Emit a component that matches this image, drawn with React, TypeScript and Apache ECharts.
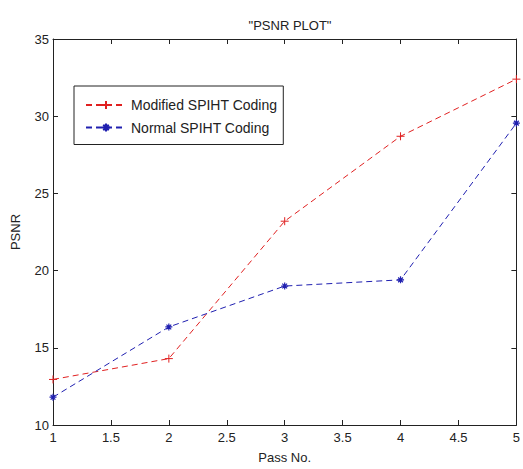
import React, { useEffect, useRef } from "react";
import * as echarts from "echarts";

const passNo = [1, 2, 3, 4, 5];
const modifiedSPIHT = [12.95, 14.3, 23.2, 28.7, 32.4];
const normalSPIHT = [11.8, 16.35, 19.0, 19.4, 29.55];
const xTicks = { min: 1, max: 5, interval: 0.5 };
const yTicks = { min: 10, max: 35, interval: 5 };

const RED = "#e02020";
const BLUE = "#2020b0";
const FONT = "Liberation Sans, Arial, sans-serif";

const plusSymbol = "path://M5,0L5,10M0,5L10,5";
const starSymbol = "path://M5,0L5,10M0,5L10,5M1.6,1.6L8.4,8.4M8.4,1.6L1.6,8.4";

export default function App() {
  const ref = useRef<HTMLDivElement>(null);
  useEffect(() => {
    if (!ref.current) return;
    const chart = echarts.init(ref.current, undefined, { renderer: "svg" });
    const axisLine = { show: true, lineStyle: { color: "#222", width: 1 } };
    const tick = { show: true, inside: true, length: 5, lineStyle: { color: "#222" } };
    const label = { color: "#222", fontSize: 13, fontFamily: FONT };
    chart.setOption({
      animation: false,
      backgroundColor: "#fff",
      title: {
        text: '"PSNR PLOT"',
        left: 285,
        top: 14,
        textAlign: "center",
        textStyle: { fontSize: 13, fontWeight: "normal", color: "#222", fontFamily: FONT },
      },
      grid: { left: 53, right: 3, top: 39, bottom: 39, containLabel: false },
      legend: {
        orient: "vertical",
        left: 74,
        top: 86,
        itemWidth: 40,
        itemHeight: 10,
        itemGap: 8.5,
        padding: [12, 6, 10, 11],
        borderColor: "#222",
        borderWidth: 1,
        backgroundColor: "#fff",
        textStyle: { fontSize: 14, color: "#222", fontFamily: FONT },
        data: ["Modified SPIHT Coding", "Normal SPIHT Coding"],
      },
      xAxis: [
        {
          type: "value",
          ...xTicks,
          name: "Pass No.",
          nameLocation: "middle",
          nameGap: 26,
          nameTextStyle: { fontSize: 13, color: "#222", fontFamily: FONT },
          axisLine,
          axisTick: tick,
          axisLabel: { ...label, margin: 6, formatter: (v: number) => String(v) },
          splitLine: { show: false },
        },
        {
          type: "value",
          position: "top",
          ...xTicks,
          axisLine,
          axisTick: tick,
          axisLabel: { show: false },
          splitLine: { show: false },
        },
      ],
      yAxis: [
        {
          type: "value",
          ...yTicks,
          name: "PSNR",
          nameLocation: "middle",
          nameGap: 31,
          nameTextStyle: { fontSize: 13, color: "#222", fontFamily: FONT },
          axisLine,
          axisTick: tick,
          axisLabel: { ...label, margin: 4 },
          splitLine: { show: false },
        },
        {
          type: "value",
          position: "right",
          ...yTicks,
          axisLine,
          axisTick: tick,
          axisLabel: { show: false },
          splitLine: { show: false },
        },
      ],
      series: [
        {
          name: "Modified SPIHT Coding",
          type: "line",
          data: passNo.map((x, i) => [x, modifiedSPIHT[i]]),
          symbol: plusSymbol,
          symbolSize: 8,
          showAllSymbol: true,
          lineStyle: { color: RED, width: 1, type: [6, 4] },
          itemStyle: { color: "transparent", borderColor: RED, borderWidth: 1 },
          emphasis: { disabled: true },
        },
        {
          name: "Normal SPIHT Coding",
          type: "line",
          data: passNo.map((x, i) => [x, normalSPIHT[i]]),
          symbol: starSymbol,
          symbolSize: 7,
          showAllSymbol: true,
          lineStyle: { color: BLUE, width: 1, type: [6, 4] },
          itemStyle: { color: "transparent", borderColor: BLUE, borderWidth: 1.2 },
          emphasis: { disabled: true },
        },
      ],
    });
    return () => chart.dispose();
  }, []);
  return (
    <div
      ref={ref}
      style={{ position: "absolute", left: 0, top: 0, width: 523, height: 469 }}
    />
  );
}
